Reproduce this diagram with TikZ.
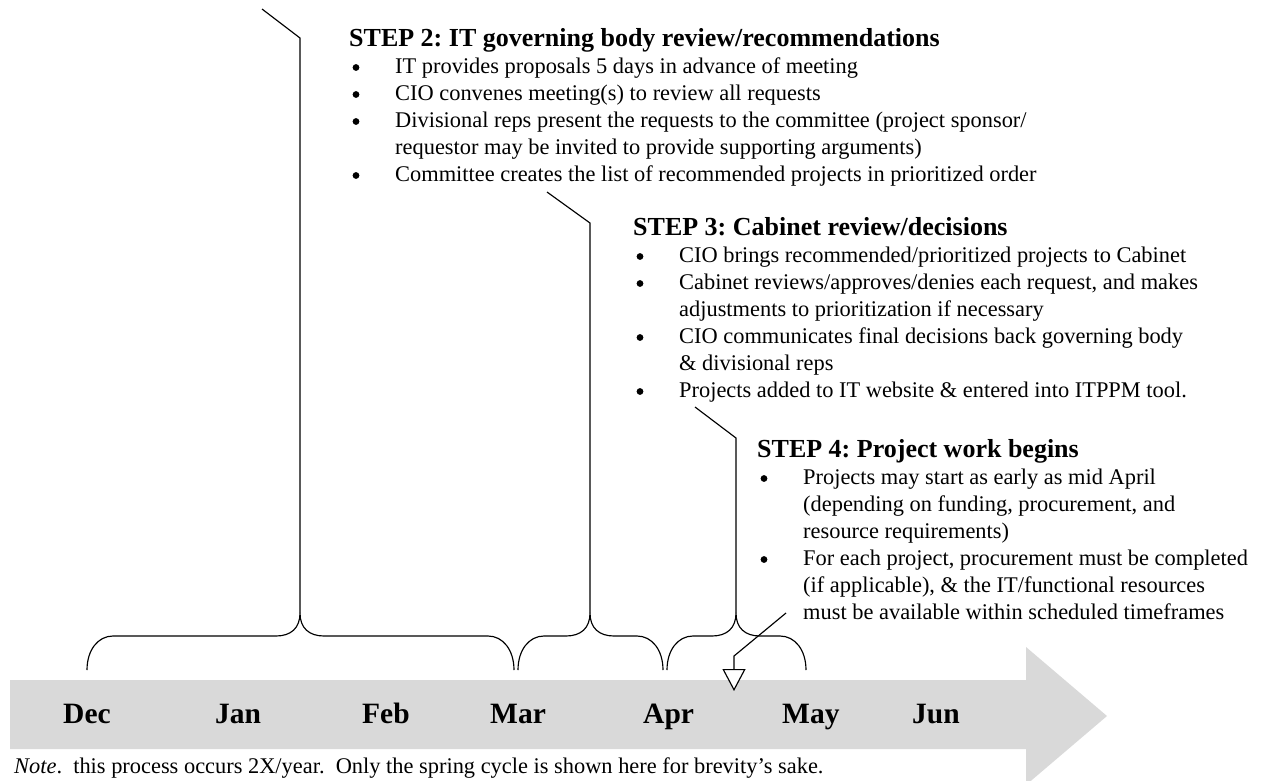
\documentclass[tikz,border=0pt]{standalone}
\usepackage{fontspec}
\setmainfont{Liberation Serif}
\usetikzlibrary{arrows.meta}
\definecolor{bandgray}{RGB}{217,217,217}

% continuation indent for the step lists (bullets are drawn as dots)
\newcommand{\stepind}{\hspace*{46pt}}
\newcommand{\steptitle}[1]{{\fontsize{26}{27}\selectfont\bfseries #1}}

\begin{document}
\frenchspacing
\begin{tikzpicture}[x=1pt,y=-1pt,
  leader/.style={draw=black, line width=1.15pt, line join=miter},
  stepblock/.style={anchor=base west, inner sep=0pt, font=\fontsize{22.4}{27}\selectfont},
  month/.style={anchor=base west, inner sep=0pt, font=\fontsize{29.5}{33}\selectfont\bfseries},
  notetext/.style={anchor=base west, inner sep=0pt, font=\fontsize{22.4}{25}\selectfont},
  listdot/.style={fill=black}]

\useasboundingbox (0,0) rectangle (1261,780);

% timeline band with arrow head
\begin{scope}
  \clip (0,0) rectangle (1261,780);
  \fill[bandgray] (10,680) -- (1026,680) -- (1026,647) -- (1107,716)
    -- (1026,785) -- (1026,749) -- (10,749) -- cycle;
\end{scope}

% months
\node[month] (dec) at (63,723) {Dec};
\node[month] (jan) at (215,723) {Jan};
\node[month] (feb) at (362,723) {Feb};
\node[month] (mar) at (490,723) {Mar};
\node[month] (apr) at (643,723) {Apr};
\node[month] (may) at (782,723) {May};
\node[month] (jun) at (912,723) {Jun};

% curly braces spanning the months of each step
\newcommand{\spanbrace}[3]{%
  \draw[leader] (#1,670) .. controls (#1,650) and (#1+11,636) .. (#1+26,636)
    -- (#2-24,636) .. controls (#2-9,636) and (#2,628) .. (#2,613)
    .. controls (#2,628) and (#2+9,636) .. (#2+24,636)
    -- (#3-26,636) .. controls (#3-11,636) and (#3,650) .. (#3,670);}
\spanbrace{87}{300}{514}
\spanbrace{518}{590}{663}
\spanbrace{667}{736}{806}

\coordinate (tip1) at (300,613);
\coordinate (tip2) at (590,613);
\coordinate (tip3) at (736,613);

% step texts
\node[stepblock] (step2) at (349,46) {\begin{tabular}[t]{@{}l@{}}
\steptitle{STEP 2: IT governing body review/recommendations}\\
\stepind IT provides proposals 5 days in advance of meeting\\
\stepind CIO convenes meeting(s) to review all requests\\
\stepind Divisional reps present the requests to the committee (project sponsor/\\
\stepind requestor may be invited to provide supporting arguments)\\
\stepind Committee creates the list of recommended projects in prioritized order
\end{tabular}};

\node[stepblock] (step3) at (633,235) {\begin{tabular}[t]{@{}l@{}}
\steptitle{STEP 3: Cabinet review/decisions}\\
\stepind CIO brings recommended/prioritized projects to Cabinet\\
\stepind Cabinet reviews/approves/denies each request, and makes\\
\stepind adjustments to prioritization if necessary\\
\stepind CIO communicates final decisions back governing body\\
\stepind \& divisional reps\\
\stepind Projects added to IT website \& entered into ITPPM tool.
\end{tabular}};

\node[stepblock] (step4) at (757,457) {\begin{tabular}[t]{@{}l@{}}
\steptitle{STEP 4: Project work begins}\\
\stepind Projects may start as early as mid April\\
\stepind (depending on funding, procurement, and\\
\stepind resource requirements)\\
\stepind For each project, procurement must be completed\\
\stepind (if applicable), \& the IT/functional resources\\
\stepind must be available within scheduled timeframes
\end{tabular}};

% list bullets: 7pt right of each title, 27pt line pitch
\foreach \r in {1,2,3,5} \fill[listdot] (356,46+27*\r-5.5) circle (3.4);
\foreach \r in {1,2,4,6} \fill[listdot] (640,235+27*\r-5.5) circle (3.4);
\foreach \r in {1,4}     \fill[listdot] (764,457+27*\r-5.5) circle (3.4);

% leaders from the texts down to the braces
\coordinate (lead1) at (262,9);   \coordinate (bend1) at (300,38);
\coordinate (lead2) at (547,192); \coordinate (bend2) at (590,223);
\coordinate (lead3) at (695,407); \coordinate (bend3) at (736,438);
\draw[leader] (lead1) -- (bend1) -- (tip1);
\draw[leader] (lead2) -- (bend2) -- (tip2);
\draw[leader] (lead3) -- (bend3) -- (tip3);

% pointer to the start of project work
\coordinate (lead4) at (786,613);
\coordinate (bend4) at (734,656);
\coordinate (mark4) at (734,691);
\draw[leader, -{Triangle[width=23pt, length=22pt, fill=white, line width=1.15pt]}]
  (lead4) -- (bend4) -- (mark4);

% footnote
\node[notetext] (note) at (14,773) {\textit{Note}.\ \ this process occurs 2X/year.\ \ Only the spring cycle is shown here for brevity’s sake.};

\end{tikzpicture}
\end{document}
